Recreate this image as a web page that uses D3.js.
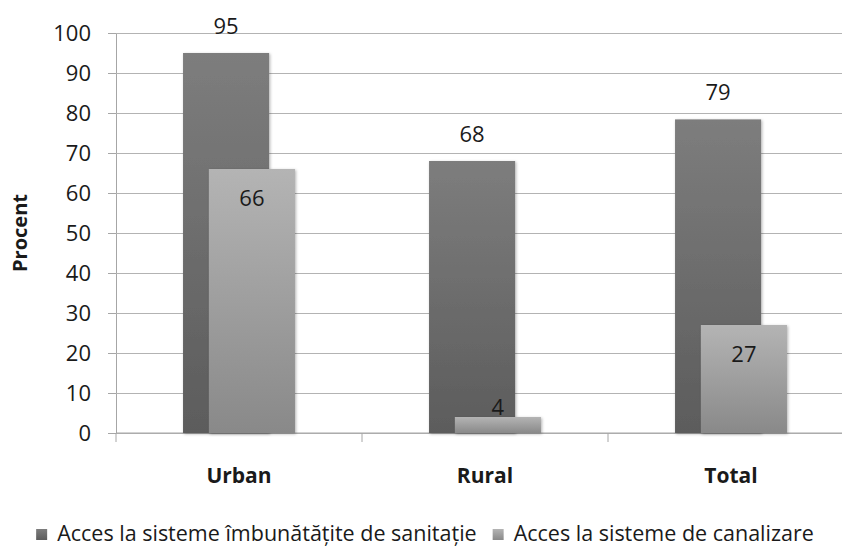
<!DOCTYPE html>
<html>
<head>
<meta charset="utf-8">
<script src="https://cdn.jsdelivr.net/npm/d3@7"></script>
<style>
  body { margin: 0; background: #fff; }
  text { font-family: "Open Sans", sans-serif; fill: #1a1a1a; }
</style>
</head>
<body>
<svg id="chart"></svg>
<script>
const categories = ["Urban", "Rural", "Total"]
const seriesNames = ["Acces la sisteme îmbunătățite de sanitație", "Acces la sisteme de canalizare"]
const sanitationValues = [95, 68, 78.4]
const sanitationLabels = ["95", "68", "79"]
const sewerValues = [66, 4, 27]
const sewerLabels = ["66", "4", "27"]
const yTicks = [0, 10, 20, 30, 40, 50, 60, 70, 80, 90, 100]

const width = 842, height = 550
const margin = {top: 33, left: 116}
const plotW = 738, plotH = 400

const svg = d3.select('#chart')
    .attr('width', width)
    .attr('height', height)

const defs = svg.append('defs')
const grad = (id, top, bottom) => {
    let g = defs.append('linearGradient').attr('id', id)
        .attr('x1', 0).attr('y1', 0).attr('x2', 0).attr('y2', 1)
    g.append('stop').attr('offset', '0%').attr('stop-color', top)
    g.append('stop').attr('offset', '100%').attr('stop-color', bottom)
}
grad('gDark', '#7d7d7d', '#5c5c5c')
grad('gLight', '#b4b4b4', '#898989')

const shadow = defs.append('filter').attr('id', 'shadow')
    .attr('x', '-10%').attr('y', '-10%').attr('width', '130%').attr('height', '130%')
shadow.append('feDropShadow')
    .attr('dx', 1).attr('dy', 1).attr('stdDeviation', 1.5)
    .attr('flood-color', '#000').attr('flood-opacity', 0.3)

const chart = svg.append('g')
    .attr('transform', `translate(${margin.left},${margin.top})`)

const xScale = d3.scaleBand().domain(categories).range([0, plotW])
const yScale = d3.scaleLinear().domain([0, 100]).range([plotH, 0])

// gridlines + y axis
const yAxis = d3.axisLeft(yScale).tickValues(yTicks).tickSize(8).tickPadding(17)
const yAxisG = chart.append('g').call(yAxis)
yAxisG.select('.domain').attr('stroke', '#a6a6a6')
yAxisG.selectAll('.tick line').attr('stroke', '#a6a6a6')
yAxisG.selectAll('.tick text')
    .style('font-size', '22px')
    .attr('fill', '#1a1a1a')
yAxisG.selectAll('.tick').append('line')
    .attr('x1', 0).attr('x2', plotW)
    .attr('stroke', '#b3b3b3')

// x axis: ticks at band boundaries
const xAxisG = chart.append('g').attr('transform', `translate(0,${plotH})`)
xAxisG.append('line').attr('x1', 0).attr('x2', plotW).attr('stroke', '#a6a6a6')
xAxisG.selectAll('.xtick')
    .data(d3.range(categories.length + 1))
    .join('line')
        .attr('class', 'xtick')
        .attr('x1', i => i * xScale.step()).attr('x2', i => i * xScale.step())
        .attr('y1', 0).attr('y2', 9)
        .attr('stroke', '#a6a6a6')
xAxisG.selectAll('.xlabel')
    .data(categories)
    .join('text')
        .attr('class', 'xlabel')
        .attr('x', d => xScale(d) + xScale.bandwidth() / 2)
        .attr('y', 50)
        .attr('text-anchor', 'middle')
        .style('font-size', '21px')
        .style('font-weight', 'bold')
        .text(d => d)

// bars
const barW = xScale.bandwidth() * 0.35
const shift = barW * 0.3
const darkX = c => xScale(c) + xScale.bandwidth() / 2 - (barW + shift) / 2

chart.selectAll('.bar-dark')
    .data(categories)
    .join('rect')
        .attr('class', 'bar-dark')
        .attr('x', d => darkX(d))
        .attr('width', barW)
        .attr('y', (d, i) => yScale(sanitationValues[i]))
        .attr('height', (d, i) => plotH - yScale(sanitationValues[i]))
        .attr('fill', 'url(#gDark)')
        .attr('filter', 'url(#shadow)')

chart.selectAll('.bar-light')
    .data(categories)
    .join('rect')
        .attr('class', 'bar-light')
        .attr('x', d => darkX(d) + shift)
        .attr('width', barW)
        .attr('y', (d, i) => yScale(sewerValues[i]))
        .attr('height', (d, i) => plotH - yScale(sewerValues[i]))
        .attr('fill', 'url(#gLight)')
        .attr('filter', 'url(#shadow)')

chart.selectAll('.label-dark')
    .data(categories)
    .join('text')
        .attr('class', 'label-dark')
        .attr('x', d => darkX(d) + barW / 2)
        .attr('y', (d, i) => yScale(sanitationValues[i]) - 19)
        .attr('text-anchor', 'middle')
        .style('font-size', '22px')
        .text((d, i) => sanitationLabels[i])

chart.selectAll('.label-light')
    .data(categories)
    .join('text')
        .attr('class', 'label-light')
        .attr('x', d => darkX(d) + shift + barW / 2)
        .attr('y', (d, i) => {
            let top = yScale(sewerValues[i])
            return plotH - top > 40 ? top + 37 : top - 2
        })
        .attr('text-anchor', 'middle')
        .style('font-size', '22px')
        .text((d, i) => sewerLabels[i])

// y title
svg.append('text')
    .attr('transform', `translate(27,${margin.top + plotH / 2}) rotate(-90)`)
    .attr('text-anchor', 'middle')
    .style('font-size', '20px')
    .style('font-weight', 'bold')
    .text('Procent')

// legend
const legend = svg.append('g')
const fills = ['url(#gDark)', 'url(#gLight)']
let lx = 0
seriesNames.forEach((name, i) => {
    let item = legend.append('g').attr('transform', `translate(${lx},0)`)
    item.append('rect')
        .attr('x', 0).attr('y', -12)
        .attr('width', 11).attr('height', 11)
        .attr('fill', fills[i])
    let t = item.append('text')
        .attr('x', 21).attr('y', 0)
        .style('font-size', '21.5px')
        .text(name)
    lx += 21 + t.node().getComputedTextLength() + 16
})
const legendW = lx - 16
legend.attr('transform', `translate(${425 - legendW / 2},541)`)
</script>
</body>
</html>
